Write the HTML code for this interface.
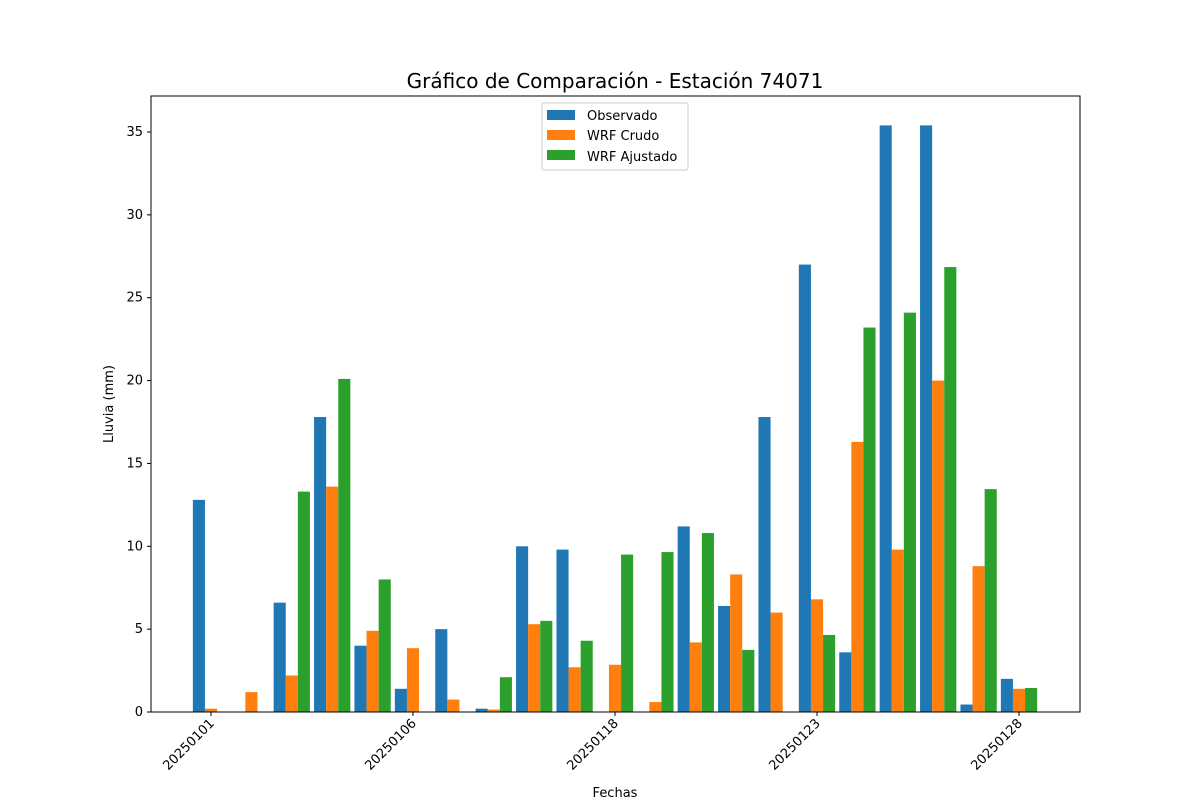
<!DOCTYPE html>
<html><head><meta charset="utf-8"><style>
body{margin:0;background:#fff}
svg{display:block;font-family:"DejaVu Sans","Liberation Sans",sans-serif}
</style></head><body>
<svg id="c" width="1200" height="800">
<text x="615" y="88" font-size="20" text-anchor="middle">Gráfico de Comparación - Estación 74071</text>
<text x="615" y="797" font-size="13" text-anchor="middle">Fechas</text>
<text transform="translate(113,404) rotate(-90)" font-size="13" text-anchor="middle">Lluvia (mm)</text>
<g id="bars"></g>
<g id="axes"></g>
<g>
<rect x="542" y="103" width="146" height="67" fill="#fff" stroke="#ccc" rx="2"/>
<rect x="547" y="110" width="28" height="10" fill="#1f77b4"/>
<text x="587" y="120" font-size="13">Observado</text>
<rect x="547" y="130" width="28" height="10" fill="#ff7f0e"/>
<text x="587" y="140" font-size="13">WRF Crudo</text>
<rect x="547" y="150" width="28" height="10" fill="#2ca02c"/>
<text x="587" y="161" font-size="13">WRF Ajustado</text>
</g>
</svg>
<script>
const categories=["20250101","20250102","20250103","20250104","20250105","20250106","20250107","20250110","20250112","20250115","20250118","20250119","20250120","20250121","20250122","20250123","20250124","20250125","20250126","20250127","20250128"];
const observado=[12.8,0,6.6,17.8,4.0,1.4,5.0,0.2,10.0,9.8,0,0,11.2,6.4,17.8,27.0,3.6,35.4,35.4,0.45,2.0];
const wrfCrudo=[0.2,1.2,2.2,13.6,4.9,3.85,0.75,0.15,5.3,2.7,2.85,0.6,4.2,8.3,6.0,6.8,16.3,9.8,20.0,8.8,1.4];
const wrfAjustado=[0,0,13.3,20.1,8.0,0,0,2.1,5.5,4.3,9.5,9.65,10.8,3.75,0,4.65,23.2,24.1,26.85,13.45,1.45];
const yTicks=[0,5,10,15,20,25,30,35];
const NS="http://www.w3.org/2000/svg";
const L=151,R=1080,T=96,B=712;
const xs=i=>211+i*40.4;
const ys=v=>712-v*16.571;
const bw=12.1;
const bars=document.getElementById('bars'),axes=document.getElementById('axes');
function mk(tag,attrs,parent){const e=document.createElementNS(NS,tag);for(const k in attrs)e.setAttribute(k,attrs[k]);parent.appendChild(e);return e;}
const series=[[observado,"#1f77b4",-1,"observado"],[wrfCrudo,"#ff7f0e",0,"wrf-crudo"],[wrfAjustado,"#2ca02c",1,"wrf-ajustado"]];
series.forEach(([vals,col,off,nm])=>{
 vals.forEach((v,i)=>{
  const r=mk('rect',{x:xs(i)+off*bw-bw/2,y:ys(v),width:bw,height:Math.max(0,B-ys(v)),fill:col},bars);
  
  
 });
});
mk('rect',{x:L,y:T,width:R-L,height:B-T,fill:'none',stroke:'#000','stroke-width':1},axes);
yTicks.forEach(t=>{
 const y=ys(t);
 mk('line',{x1:L-4,x2:L,y1:y,y2:y,stroke:'#000'},axes);
 const tx=mk('text',{x:L-8,y:y+4,'font-size':13,'text-anchor':'end'},axes);
 tx.textContent=t;
 
 
});
categories.forEach((c,i)=>{
 if(i%5!==0)return;
 const x=xs(i);
 mk('line',{x1:x,x2:x,y1:B,y2:B+4,stroke:'#000'},axes);
 const tx=mk('text',{transform:`translate(${x+4},${B+12}) rotate(-45)`,'font-size':13,'text-anchor':'end'},axes);
 tx.textContent=c;
 
 
});
</script>
</body></html>
